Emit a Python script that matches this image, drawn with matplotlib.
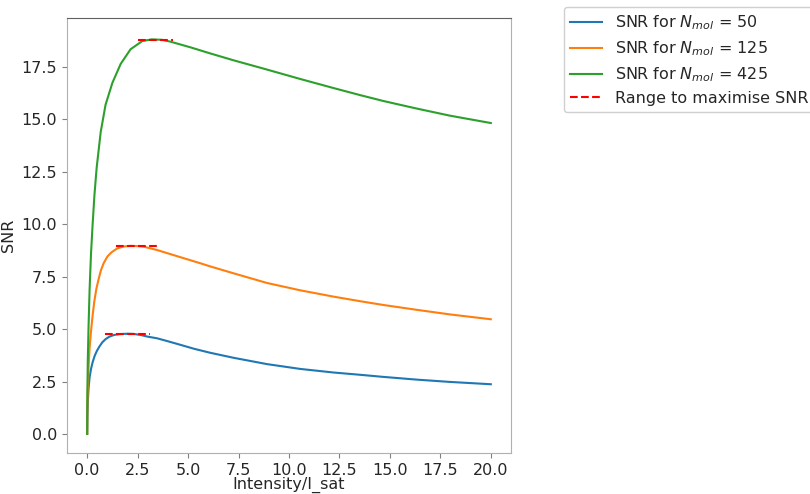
import matplotlib
matplotlib.use("Agg")
import matplotlib.pyplot as plt

# values
x_50 = [0, 0.01, 0.03, 0.07, 0.12, 0.19, 0.27, 0.37, 0.48, 0.6, 0.75, 0.91, 1.1, 1.33, 1.59, 1.99, 2.3, 2.65, 3.0,
        3.47, 4.0, 4.62, 5.3, 6.1, 7.26, 8.91, 10.56, 12.2, 13.53, 14.68, 16.33, 17.98, 20]
snr_50 = [0, 0.9, 1.5, 2.2, 2.7, 3.1, 3.42, 3.72, 3.96, 4.16, 4.37, 4.52, 4.64, 4.72, 4.76, 4.78, 4.77, 4.72, 4.64,
          4.56, 4.42, 4.25, 4.06, 3.87, 3.63, 3.33, 3.10, 2.93, 2.82, 2.72, 2.59, 2.48, 2.37]

x_125 = [0, 0.01, 0.03, 0.07, 0.12, 0.19, 0.27, 0.35, 0.45, 0.57, 0.68, 0.82, 1.0, 1.2, 1.49, 1.8, 2.15, 2.5, 2.81,
         3.47, 4.62, 5.61, 6.1, 7.26, 8.91, 10.56, 12.2, 13.53, 14.68, 16.33, 17.98, 20]
snr_125 = [0, 1.2, 2.1, 3.2, 4.1, 4.9, 5.65, 6.3, 6.9, 7.4, 7.8, 8.15, 8.46, 8.66, 8.85, 8.94, 8.97, 8.96, 8.93,
           8.77, 8.43, 8.14, 7.99, 7.66, 7.2, 6.85, 6.55, 6.33, 6.15, 5.92, 5.70, 5.47]

x_425 = [0, 0.01, 0.03, 0.07, 0.12, 0.19, 0.27, 0.36, 0.47, 0.67, 0.91, 1.25, 1.66, 2.15, 2.73, 3.2, 3.7,
         4.13, 5.12, 6.1, 7.26, 8.91, 10.56, 12.2, 13.53, 14.68, 16.33, 17.98, 20]
snr_425 = [0, 2.0, 3.5, 5.2, 6.9, 8.6, 10.0, 11.4, 12.7, 14.4, 15.7, 16.75, 17.65, 18.35, 18.74, 18.82, 18.80,
           18.71, 18.44, 18.15, 17.82, 17.38, 16.93, 16.50, 16.16, 15.88, 15.52, 15.18, 14.83]

# red dashed ranges: (start, end, level)
ranges = [(0.88, 3.1, 4.77), (1.41, 3.55, 8.98), (2.5, 4.23, 18.79)]

labels = ["SNR for $N_{mol}$ = 50", "SNR for $N_{mol}$ = 125", "SNR for $N_{mol}$ = 425"]

plt.rcParams['font.size'] = 11.5
plt.rcParams['text.color'] = '#262626'
plt.rcParams['xtick.color'] = '#262626'
plt.rcParams['ytick.color'] = '#262626'
plt.rcParams['axes.labelcolor'] = '#262626'

fig = plt.figure(figsize=(8.1, 4.94), dpi=100)
ax = fig.add_axes([67/810, 41/494, 444/810, 435/494])

ax.plot(x_50, snr_50, label=labels[0])
ax.plot(x_125, snr_125, label=labels[1])
ax.plot(x_425, snr_425, label=labels[2])
for i, (a, b, lvl) in enumerate(ranges):
    ax.plot([a, b], [lvl, lvl], 'r--', label="Range to maximise SNR" if i == 0 else None)

ax.set_xlim(-1, 21)
ax.set_ylim(-0.91, 19.84)
ax.set_xticks([0, 2.5, 5, 7.5, 10, 12.5, 15, 17.5, 20])
ax.set_yticks([0, 2.5, 5, 7.5, 10, 12.5, 15, 17.5])
ax.set_xlabel("Intensity/I_sat", labelpad=-1)
ax.set_ylabel("SNR")
for s in ['left', 'right', 'bottom']:
    ax.spines[s].set_color('#b0b0b0')
ax.spines['top'].set_color('#606060')
ax.tick_params(color='#808080')

fig.legend(loc='upper left', bbox_to_anchor=(564/810, 1 - 7/494), borderaxespad=0,
           labelspacing=0.45, framealpha=1, edgecolor='#d0d0d0')

fig.savefig("out.png", dpi=100)
